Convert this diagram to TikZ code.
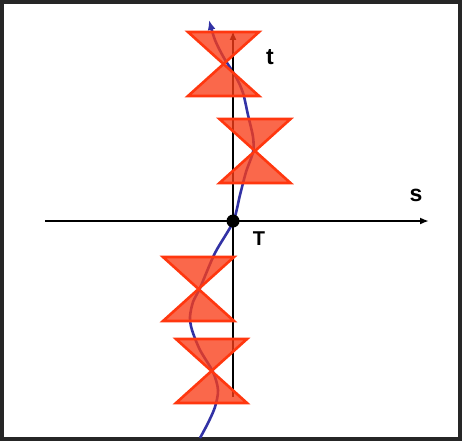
\documentclass[tikz,border=0pt]{standalone}
\usepackage{fontspec}
\setmainfont{Liberation Sans}
\usetikzlibrary{arrows.meta}
\definecolor{conefill}{RGB}{249,61,24}
\definecolor{coneline}{RGB}{255,55,15}
\definecolor{worldline}{RGB}{50,50,165}
\tikzset{
	axis/.style={line width=1.8pt, -{Latex[length=9pt,width=7pt]}},
	cone/.style={line width=2.6pt, draw=coneline, fill=conefill, fill opacity=0.78, line join=miter},
	axislabel/.style={font=\fontsize{23}{26}\selectfont\bfseries}
}
\def\lightcone(#1,#2){\draw[cone] (#1-35.5,#2-32) -- (#1+35.5,#2-32) -- (#1-35.5,#2+32) -- (#1+35.5,#2+32) -- cycle;}

\begin{document}
\begin{tikzpicture}[x=1pt, y=-1pt]
			%%%%% START %%%%%
			\useasboundingbox (0,0) rectangle (465,441);
			\draw[line width=4pt, color=black!85] (2,2) rectangle (460,439);
			
			% world line
			\draw[line width=2.6pt, color=worldline, -{Latex[length=10pt,width=8pt]}] plot[smooth, tension=0.5] coordinates {
				(200,438) (208,423) (215,407) (218,390) (213,372) (200,350) (192,330) (190,317)
				(193,302) (200,288) (215,253) (233,222) (240,195) (246,172) (253,152) (253,137)
				(248,115) (243,93) (236,77) (224,58) (215,40) (209,20)};
			
			% axes
			\coordinate (T) at (233,221);
			\coordinate (sleft) at (45,221);
			\coordinate (sright) at (429,221);
			\coordinate (tbottom) at (233,397);
			\coordinate (ttop) at (233,31);
			\draw[axis] (sleft) -- (sright);
			\draw[axis] (tbottom) -- (ttop);
			\fill (T) circle (6.5);
			
			\node[axislabel] (tlabel) at (270,57) {t};
			\node[axislabel] (slabel) at (416,195) {s};
			\node[axislabel, font=\fontsize{20}{23}\selectfont\bfseries] (Tlabel) at (259,239) {T};
			
			% light cones
			\lightcone(223.5,64)
			\lightcone(255,151)
			\lightcone(198.5,289)
			\lightcone(211.5,371)
			
			%%%%% END %%%%%
\end{tikzpicture}
\end{document}
